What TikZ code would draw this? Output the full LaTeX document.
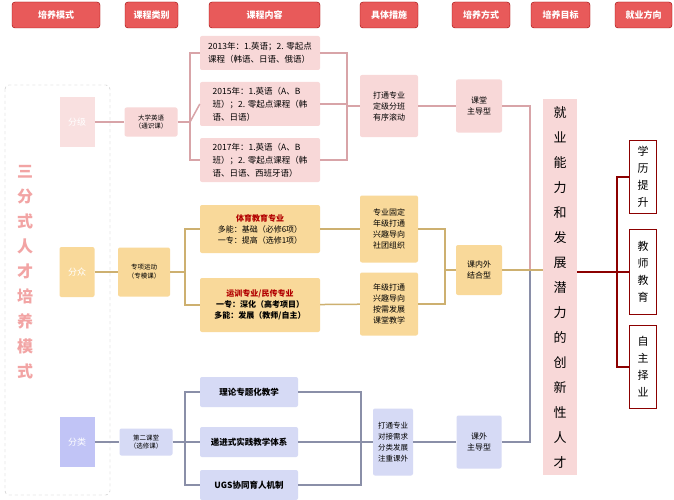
\documentclass[tikz,border=0pt]{standalone}
\usepackage{fontspec}
\setmainfont{Noto Sans CJK SC}
\begin{document}
\begin{tikzpicture}[x=1pt,y=-1pt,
 hdr/.style={draw=red!60!black,fill=hred,rounded corners=3pt,text=white,font=\fontsize{9}{10}\selectfont\bfseries,inner sep=0pt},
 bx/.style={rounded corners=2pt,inner sep=1pt,align=center,font=\fontsize{8}{11}\selectfont},
 pk/.style={bx,fill=lpink},
 og/.style={bx,fill=lorange},
 pu/.style={bx,fill=lpurple},
 pl/.style={draw=lnpink,line width=1.5pt},
 ol/.style={draw=lnorange,line width=1.5pt},
 ul/.style={draw=lnpurple,line width=1.5pt},
 rl/.style={draw=red!55!black,line width=1.5pt}]
\definecolor{hred}{HTML}{E85A5A}
\definecolor{lpink}{HTML}{F8D8D8}
\definecolor{lorange}{HTML}{F9D99A}
\definecolor{lpurple}{HTML}{D6DAF5}
\definecolor{lnpink}{HTML}{D8A4A8}
\definecolor{lnorange}{HTML}{CDB070}
\definecolor{lnpurple}{HTML}{8A8FA8}
\useasboundingbox (0,0) rectangle (674,500);
\fill[white] (0,0) rectangle (674,500);
% headers
\foreach \a/\b/\t in {12/100/培养模式,125/178/课程类别,209/320/课程内容,360/418/具体措施,452/510/培养方式,531/590/培养目标,615/672/就业方向}
  \node[hdr,minimum width=\b-\a,minimum height=26] at ({(\a+\b)/2},15) {\t};
% left frame
\draw[gray!50,dashed,rounded corners=4pt] (5,85) rectangle (110,495);
\node[text=hred!55,font=\fontsize{16}{25}\selectfont\bfseries,align=center] (title) at (25,272) {三\\分\\式\\人\\才\\培\\养\\模\\式};
\node[fill=lpink!80,minimum width=35,minimum height=50,text=white,font=\fontsize{9}{10}\selectfont,inner sep=0] (fj) at (77,122) {分级};
\node[fill=lorange,rounded corners=2pt,minimum width=35,minimum height=50,text=white,font=\fontsize{9}{10}\selectfont,inner sep=0] (fz) at (77,272) {分众};
\node[fill=lpurple!90!blue,minimum width=35,minimum height=50,text=white,font=\fontsize{9}{10}\selectfont,inner sep=0] (fl) at (77,442) {分类};
% pink section
\node[pk,minimum width=53,minimum height=29,font=\fontsize{6.5}{8}\selectfont] (dx) at (151,122) {大学英语\\（通识课）};
\tikzset{ct/.style={pk,minimum width=120,align=left,font=\fontsize{8.5}{13}\selectfont}}
\node[ct,minimum height=34] (c1) at (260,53) {2013年：1.英语；2. 零起点\\课程（韩语、日语、俄语）};
\node[ct,minimum height=44] (c2) at (260,104) {2015年：1.英语（A、B\\班）；2. 零起点课程（韩\\语、日语）};
\node[ct,minimum height=44] (c3) at (260,160) {2017年：1.英语（A、B\\班）；2. 零起点课程（韩\\语、日语、西班牙语）};
\node[pk,minimum width=58,minimum height=62] (m1) at (389,106) {打通专业\\定级分班\\有序滚动};
\node[pk,minimum width=46,minimum height=53] (k1) at (479,106) {课堂\\主导型};
\coordinate (pv) at (190,122);
\coordinate (pr) at (347,106);
\draw[pl] (fj) -- (dx); \draw[pl] (dx) -- (pv);
\draw[pl] (c1.west) -| (pv) |- (c3.west); \draw[pl] (pv) -- (c2.west);
\draw[pl] (c1.east) -| (pr) |- (c3.east); \draw[pl] (c2.east) -- (c2.east -| pr);
\draw[pl] (pr) -- (m1); \draw[pl] (m1) -- (k1);
% orange
\node[og,minimum width=52,minimum height=49,font=\fontsize{6.5}{9}\selectfont] (zx) at (144,272) {专项运动\\（专模课）};
\node[og,minimum width=120,minimum height=48] (t1) at (260,229) {{\color{red!70!black}\bfseries 体育教育专业}\\多能：基础（必修6项）\\一专：提高（选修1项）};
\node[og,minimum width=120,minimum height=54] (t2) at (260,305) {{\color{red!70!black}\bfseries 运训专业/民传专业}\\\bfseries 一专：深化（高考项目）\\\bfseries 多能：发展（教师/自主）};
\node[og,minimum width=58,minimum height=67] (m2) at (389,229) {专业固定\\年级打通\\兴趣导向\\社团组织};
\node[og,minimum width=58,minimum height=63] (m3) at (389,304) {年级打通\\兴趣导向\\按需发展\\课堂教学};
\node[og,minimum width=46,minimum height=50] (k2) at (479,270) {课内外\\结合型};
\coordinate (ov) at (185,272);
\coordinate (orr) at (445,270);
\draw[ol] (fz) -- (zx); \draw[ol] (zx) -- (ov);
\draw[ol] (t1.west) -| (ov) |- (t2.west);
\draw[ol] (t1) -- (m2); \draw[ol] (t2) -- (m3);
\draw[ol] (m2.east) -| (orr) |- (m3.east); \draw[ol] (orr) -- (k2);
% purple
\node[pu,minimum width=53,minimum height=27,font=\fontsize{6.5}{8}\selectfont] (de) at (146,442) {第二课堂\\（选修课）};
\node[pu,minimum width=98,minimum height=30,font=\fontsize{8.5}{10}\selectfont\bfseries] (p1) at (249,392) {理论专题化教学};
\node[pu,minimum width=98,minimum height=30,font=\fontsize{8.5}{10}\selectfont\bfseries] (p2) at (249,442) {递进式实践教学体系};
\node[pu,minimum width=98,minimum height=30,font=\fontsize{8.5}{10}\selectfont\bfseries] (p3) at (249,485) {UGS协同育人机制};
\node[pu,minimum width=40,minimum height=67,font=\fontsize{7.5}{11}\selectfont] (m4) at (393,442) {打通专业\\对接需求\\分类发展\\注重课外};
\node[pu,minimum width=45,minimum height=53] (k3) at (479,442) {课外\\主导型};
\coordinate (uv) at (185,442);
\coordinate (ur) at (361,442);
\draw[ul] (fl) -- (de); \draw[ul] (de) -- (uv);
\draw[ul] (p1.west) -| (uv) |- (p3.west); \draw[ul] (uv) -- (p2.west);
\draw[ul] (p1.east) -| (ur) |- (p3.east); \draw[ul] (p2) -- (m4);
\draw[ul] (m4) -- (k3);
% target
\node[fill=lpink,minimum width=34,minimum height=375,inner sep=0,font=\fontsize{13}{25}\selectfont,align=center] (goal) at (560,287) {就\\业\\能\\力\\和\\发\\展\\潜\\力\\的\\创\\新\\性\\人\\才};
\coordinate (gj) at (530,270);
\draw[pl] (k1.east) -| (gj);
\draw[ul] (k3.east) -| (gj);
\draw[ol] (k2) -- (goal.west |- k2);
% jobs
\tikzset{jb/.style={draw=red!55!black,line width=1.5pt,fill=white,minimum width=27,inner sep=0,align=center,font=\fontsize{11}{17}\selectfont}}
\node[jb,minimum height=73] (j1) at (643,177) {学\\历\\提\\升};
\node[jb,minimum height=85] (j2) at (643,272) {教\\师\\教\\育};
\node[jb,minimum height=83] (j3) at (643,367) {自\\主\\择\\业};
\coordinate (jv) at (617,272);
\draw[rl] (goal.east |- jv) -- (j2.west);
\draw[rl] (j1.west) -| (jv) |- (j3.west);
\end{tikzpicture}
\end{document}
